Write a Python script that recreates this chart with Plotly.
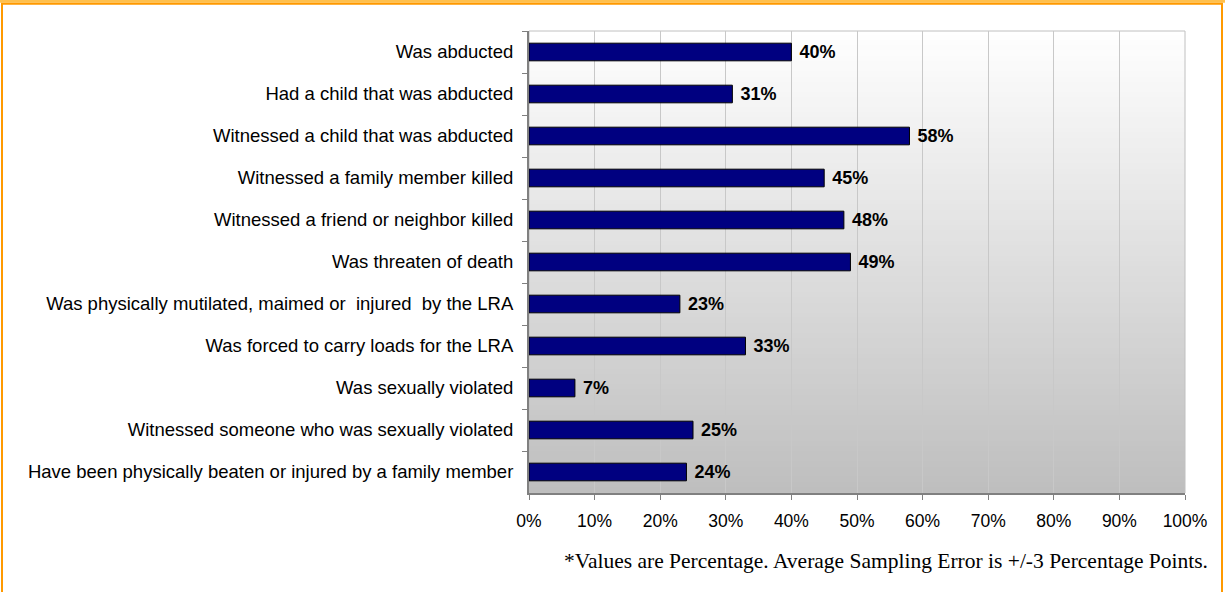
import plotly.graph_objects as go

categories = [
    "Was abducted",
    "Had a child that was abducted",
    "Witnessed a child that was abducted",
    "Witnessed a family member killed",
    "Witnessed a friend or neighbor killed",
    "Was threaten of death",
    "Was physically mutilated, maimed or  injured  by the LRA",
    "Was forced to carry loads for the LRA",
    "Was sexually violated",
    "Witnessed someone who was sexually violated",
    "Have been physically beaten or injured by a family member",
]
values = [40, 31, 58, 45, 48, 49, 23, 33, 7, 25, 24]
x_ticks = list(range(0, 101, 10))
x_tick_labels = [f"{t}%" for t in x_ticks]
bar_labels = [f"\u00a0<b>{v}%</b>" for v in values]
footnote = "*Values are Percentage. Average Sampling Error is +/-3 Percentage Points."

W, H = 1225, 592
ML, MR, MT, MB = 529, 40, 31, 99
PW = W - ML - MR
PH = H - MT - MB


def px_x(px):
    return (px - ML) / PW


def px_y(py):
    return (H - MB - py) / PH


fig = go.Figure()
fig.add_trace(go.Bar(
    y=categories,
    x=values,
    orientation="h",
    width=0.42,
    marker=dict(color="#000080", line=dict(color="#000000", width=1)),
    text=bar_labels,
    textposition="outside",
    constraintext="none",
    textfont=dict(family="Liberation Sans, Arial, sans-serif", size=18, color="#000000"),
    cliponaxis=False,
    hoverinfo="skip",
))

shapes = []
# vertical gradient plot background (white -> gray)
n = 90
for i in range(n):
    t = (i + 0.5) / n
    c = int(round(255 - (255 - 190) * t))
    shapes.append(dict(
        type="rect", xref="paper", yref="paper",
        x0=0, x1=1, y0=1 - (i + 1) / n, y1=1 - i / n + 0.002,
        fillcolor=f"rgb({c},{c},{c})", line=dict(width=0), layer="below",
    ))
# plot border (top/right)
shapes.append(dict(type="rect", xref="paper", yref="paper", x0=0, x1=1, y0=0, y1=1,
                   line=dict(color="#c0c0c0", width=1), layer="between"))
# orange frame
shapes.append(dict(type="rect", xref="paper", yref="paper",
                   x0=px_x(0), x1=px_x(W), y0=px_y(0), y1=px_y(2.7),
                   fillcolor="#FFC04D", line=dict(width=0), layer="above"))
shapes.append(dict(type="rect", xref="paper", yref="paper",
                   x0=px_x(2), x1=px_x(1222), y0=px_y(3.7), y1=px_y(H + 10),
                   line=dict(color="#FF9900", width=2), layer="above"))

fig.update_layout(
    width=W, height=H,
    margin=dict(l=ML, r=MR, t=MT, b=MB, pad=0),
    paper_bgcolor="#ffffff",
    plot_bgcolor="#ffffff",
    showlegend=False,
    shapes=shapes,
    font=dict(family="Liberation Sans, Arial, sans-serif", size=18, color="#000000"),
    xaxis=dict(
        range=[0, 100],
        tickvals=x_ticks,
        ticktext=x_tick_labels,
        showgrid=True, gridcolor="#c8c8c8", gridwidth=1,
        showline=True, linecolor="#808080", linewidth=2,
        ticks="outside", ticklen=5, tickcolor="#808080", tickwidth=1,
        tickfont=dict(size=17.5, color="#000000"),
        ticklabelstandoff=6,
        zeroline=False,
        fixedrange=True,
    ),
    yaxis=dict(
        categoryorder="array", categoryarray=categories,
        autorange="reversed",
        showgrid=False,
        showline=True, linecolor="#808080", linewidth=2,
        ticks="outside", ticklen=5, tickcolor="#808080", tickwidth=1,
        tickson="boundaries",
        tickfont=dict(size=18.5, color="#000000"),
        ticklabelstandoff=10,
        fixedrange=True,
    ),
    annotations=[dict(
        text=footnote, xref="paper", yref="paper",
        x=px_x(1210), y=px_y(561), xanchor="right", yanchor="middle",
        showarrow=False,
        font=dict(family="Liberation Serif, Times New Roman, serif", size=21.5, color="#000000"),
    )],
)

fig.write_html(
    "out.html",
    config={"displayModeBar": False},
    post_script="document.body.style.margin='0';document.body.style.overflow='hidden';",
)
